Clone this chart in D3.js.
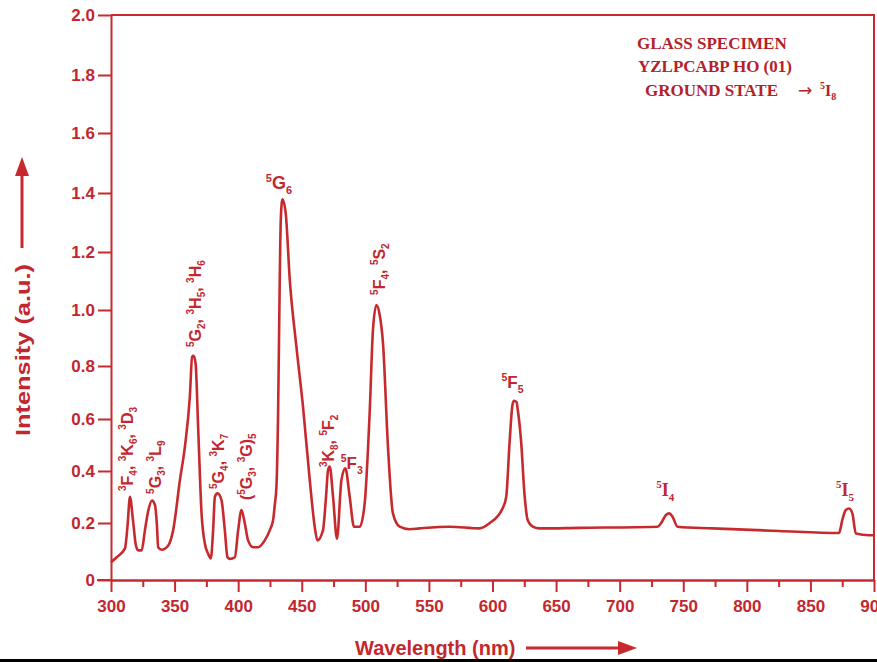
<!DOCTYPE html>
<html><head><meta charset="utf-8">
<script src="https://cdn.jsdelivr.net/npm/d3@7"></script>
<style>body{margin:0;background:#fff;} svg{display:block;} text{white-space:pre;}</style>
</head><body><svg id="c" width="877" height="662"></svg>
<script>
const wavelength = [300,304.5,311,313,314.9,317.3,319.6,321.4,324.1,326.7,329.1,332.2,334.6,336.1,337.1,339.8,345,348.9,354.2,358.1,362,363.8,364.9,366.5,368.6,371.2,373.8,376.4,378.5,380.3,381.7,383.8,386.9,389.5,391.6,393.5,397.4,400,402.6,405.2,407.8,411.8,415.7,420.9,424.9,427.5,428.8,430.1,431.4,432.7,433.5,434.8,437.4,440.6,445.8,451,456.3,460.2,462.3,466.7,468.9,470.7,472,474.6,477.7,481.2,484.3,487.7,491.1,495.6,499.5,503.4,506,508.7,511.3,513.9,517.8,521.7,527,534.8,542.7,566.2,589.8,597.6,608.1,610.8,613.4,615.7,616.9,618.9,619.9,622.6,625.1,627.7,631.7,636.9,668.3,729.8,732.5,736.4,739,741.6,745.5,773,825.4,872.5,875.1,877.8,880.4,883,885.7,896.1,900];
const intensity = [0.062,0.080,0.111,0.19,0.301,0.21,0.121,0.104,0.104,0.175,0.242,0.286,0.269,0.193,0.115,0.106,0.121,0.175,0.365,0.493,0.684,0.833,0.836,0.81,0.558,0.237,0.128,0.092,0.076,0.175,0.301,0.314,0.288,0.175,0.080,0.074,0.080,0.175,0.25,0.199,0.139,0.115,0.115,0.139,0.175,0.212,0.27,0.34,0.623,1.103,1.308,1.379,1.331,1.103,0.869,0.646,0.365,0.187,0.139,0.175,0.288,0.404,0.417,0.301,0.145,0.365,0.410,0.301,0.187,0.187,0.276,0.623,0.929,1.017,0.982,0.881,0.493,0.237,0.187,0.178,0.181,0.187,0.181,0.199,0.258,0.301,0.507,0.653,0.669,0.664,0.634,0.507,0.314,0.211,0.187,0.181,0.183,0.187,0.199,0.231,0.237,0.224,0.187,0.181,0.172,0.165,0.212,0.25,0.256,0.237,0.163,0.157,0.157];

const xTickValues = [300,350,400,450,500,550,600,650,700,750,800,850,900];
const xMinorTickValues = [325,375,425,475,525,575,625,675,725,775,825,875];
const yTickValues = [0,0.2,0.4,0.6,0.8,1.0,1.2,1.4,1.6,1.8,2.0];
const yTickLabels = ["0","0.2","0.4","0.6","0.8","1.0","1.2","1.4","1.6","1.8","2.0"];

const annoText = ["^3F_4, ^3K_6, ^3D_3","^5G_3, ^3L_9","^5G_2, ^3H_5, ^3H_6","^5G_6","^5G_4, ^3K_7","(^5G_3, ^3G)_5","^3K_8, ^5F_2","^5F_3","^5F_4, ^5S_2","^5F_5","^5I_4","^5I_5"];
const annoWave = [317.3,339.3,370.7,421.7,388.7,410.7,475.1,480.6,515.2,607.1,728.8,870.2];
const annoValue = [0.323,0.312,0.868,1.413,0.331,0.288,0.415,0.408,1.052,0.717,0.304,0.304];

const legendLines = ["GLASS SPECIMEN","YZLPCABP HO (01)","GROUND STATE"];
const groundState = "^5I_8";
const xTitle = "Wavelength (nm)";
const yTitle = "Intensity (a.u.)";

const RED = "#c62a2f", TXT = "#c3272e", LEG = "#b3222a";
const SANS = "'Liberation Sans', Arial, Helvetica, sans-serif";
const SERIF = "'Liberation Serif', 'Times New Roman', serif";

const svg = d3.select("#c");
svg.append("rect").attr("width",877).attr("height",662).attr("fill","#fff");

const x = d3.scaleLinear().domain([300,900]).range([111,874]);
const y = d3.scaleLinear().domain(yTickValues).range([580,523,471,419,366,310,252,193,133,75,15]);

// frame
svg.append("path")
  .attr("d", `M${x(300)},${y(2)}H${x(900)}V${y(0)}`)
  .attr("fill","none").attr("stroke",RED).attr("stroke-width",2);

// y axis
svg.append("g").attr("transform",`translate(${x(300)},0)`)
  .call(d3.axisLeft(y).tickValues(yTickValues).tickFormat((d,i)=>yTickLabels[i]).tickSize(13).tickSizeOuter(0).tickPadding(3));
// x axis minor
svg.append("g").attr("transform",`translate(0,${y(0)})`)
  .call(d3.axisBottom(x).tickValues(xMinorTickValues).tickFormat("").tickSize(7).tickSizeOuter(0));
svg.append("g").attr("transform",`translate(0,${y(0)})`)
  .call(d3.axisBottom(x).tickValues(xTickValues).tickFormat(d3.format("d")).tickSize(12).tickSizeOuter(0).tickPadding(8));
svg.selectAll(".domain").attr("stroke",RED).attr("stroke-width",2);
svg.selectAll(".tick line").attr("stroke",RED).attr("stroke-width",2);
svg.selectAll(".tick text").attr("fill",TXT).style("font-family",SANS).style("font-weight","bold").style("font-size","17px");
svg.append("line").attr("x1",97).attr("x2",x(300)).attr("y1",y(0)).attr("y2",y(0)).attr("stroke",RED).attr("stroke-width",2);

// curve
const pts = wavelength.map((w,i)=>[w,intensity[i]]);
svg.append("path").datum(pts)
  .attr("d", d3.line().x(d=>x(d[0])).y(d=>y(d[1])).curve(d3.curveMonotoneX))
  .attr("fill","none").attr("stroke",RED).attr("stroke-width",2.6).attr("stroke-linejoin","round");

// rich text helper: ^c superscript, _c subscript
function rich(t, str, mainSize, smallSize, startX){
  const tokens=[];
  for(let i=0;i<str.length;i++){
    const c=str[i];
    if(c==="^") tokens.push({t:str[++i],k:"sup"});
    else if(c==="_") tokens.push({t:str[++i],k:"sub"});
    else if(tokens.length && tokens[tokens.length-1].k==="n") tokens[tokens.length-1].t+=c;
    else tokens.push({t:c,k:"n"});
  }
  let cur=0;
  tokens.forEach((tk,j)=>{
    const off = tk.k==="sup" ? -mainSize*0.42 : tk.k==="sub" ? mainSize*0.28 : 0;
    const ts = t.append("tspan").attr("dy",off-cur).style("font-size",(tk.k==="n"?mainSize:smallSize)+"px").text(tk.t);
    if(j===0 && startX!==undefined) ts.attr("x",startX);
    cur=off;
  });
}

// annotations
annoText.forEach((s,i)=>{
  const rotated = s.includes(",");
  const serif = s.includes("I");
  const px = x(annoWave[i]), py = y(annoValue[i]);
  const t = svg.append("text")
    .attr("transform", rotated ? `translate(${px},${py}) rotate(-90)` : `translate(${px},${py})`)
    .attr("fill",TXT).style("font-family", serif?SERIF:SANS).style("font-weight","bold");
  if(rotated) rich(t,s,16,10);
  else if(i===3) rich(t,s,18,11);
  else if(serif) rich(t,s,18,11);
  else rich(t,s,17,10.5);
});

// legend
const legX=[637,638,645], legY=[49,72,96];
legendLines.forEach((s,i)=>{
  const t = svg.append("text").attr("x",legX[i]).attr("y",legY[i]).attr("fill",LEG)
    .style("font-family",SERIF).style("font-weight","bold").style("font-size","17px");
  t.append("tspan").text(s);
  if(i===2){
    t.append("tspan").attr("x",798).style("font-family","'DejaVu Sans', sans-serif").style("font-weight","normal").style("font-size","17px").text("\u2192");
    rich(t, groundState, 16, 10, 820);
  }
});

// axis titles with arrows
svg.append("text").attr("x",355).attr("y",655).attr("fill",TXT)
  .style("font-family",SANS).style("font-weight","bold").style("font-size","20px").text(xTitle);
svg.append("line").attr("x1",526).attr("x2",622).attr("y1",648).attr("y2",648).attr("stroke",RED).attr("stroke-width",3);
svg.append("path").attr("d","M637,648L618,641L618,655Z").attr("fill",RED);

svg.append("text").attr("transform","translate(30,350) rotate(-90)").attr("text-anchor","middle").attr("fill",TXT)
  .attr("textLength",172).attr("lengthAdjust","spacingAndGlyphs")
  .style("font-family",SANS).style("font-weight","bold").style("font-size","21px").text(yTitle);
svg.append("line").attr("x1",22).attr("x2",22).attr("y1",248).attr("y2",172).attr("stroke",RED).attr("stroke-width",3);
svg.append("path").attr("d","M22,157L15,176L29,176Z").attr("fill",RED);

// bottom black rule
svg.append("rect").attr("x",0).attr("y",659).attr("width",877).attr("height",3).attr("fill","#000");
</script></body></html>
